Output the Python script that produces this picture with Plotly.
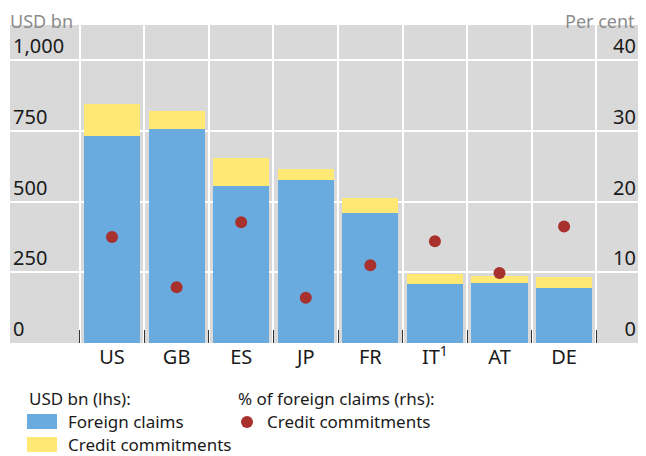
import plotly.graph_objects as go

# values
countries = ["US", "GB", "ES", "JP", "FR", "IT<sup>1</sup>", "AT", "DE"]
foreign_claims = [731, 756, 555, 576, 459, 208, 212, 194]
credit_commitments = [114, 64, 99, 39, 53, 36, 25, 39]
commitments_pct = [15.0, 7.9, 17.1, 6.4, 11.0, 14.4, 9.9, 16.5]

lhs_ticks = [0, 250, 500, 750, 1000]
lhs_labels = ["0", "250", "500", "750", "1,000"]
rhs_ticks = [0, 10, 20, 30, 40]

BLUE = "#6AABDF"
YELLOW = "#FFE873"
RED = "#A8312E"
FONT = "Noto Sans"

# the page body adds an 8px margin, so the figure is drawn 8px smaller
# and every page position is shifted by that much
OFF = 8
W, H = 646 - OFF, 456 - OFF
L, R, T, B = 2, 7, 17, 113


# page pixel -> paper coords (for the hand-made legend and corner titles)
def px(x):
    return (x - OFF - L) / (W - L - R)


def py(y):
    return (H - B - (y - OFF)) / (H - T - B)


fig = go.Figure()
fig.add_trace(go.Bar(x=countries, y=foreign_claims, name="Foreign claims",
                     marker=dict(color=BLUE, line=dict(width=0)), width=0.87))
fig.add_trace(go.Bar(x=countries, y=credit_commitments, name="Credit commitments",
                     marker=dict(color=YELLOW, line=dict(width=0)), width=0.87))
fig.add_trace(go.Scatter(x=countries, y=commitments_pct, mode="markers", yaxis="y2",
                         name="Credit commitments (%)",
                         marker=dict(color=RED, size=12)))

tick_font = dict(family=FONT, size=20, color="#1a1a1a")
fig.update_layout(
    width=W, height=H,
    margin=dict(l=L, r=R, t=T, b=B),
    barmode="stack",
    showlegend=False,
    plot_bgcolor="#D9D9D9",
    paper_bgcolor="white",
    font=dict(family=FONT, size=17, color="#1a1a1a"),
    xaxis=dict(type="category", range=[-1.58, 8.16], tickson="boundaries",
               ticks="inside", ticklen=13, tickcolor="#333333", tickwidth=1,
               showgrid=True, gridcolor="white", gridwidth=1.5,
               showline=False, zeroline=False, tickfont=tick_font),
    yaxis=dict(range=[0, 1125], tickvals=lhs_ticks, ticktext=lhs_labels,
               ticklabelposition="inside top", showgrid=True, gridcolor="white",
               gridwidth=1.5, zeroline=False, showline=False, tickfont=tick_font),
    yaxis2=dict(range=[0, 45], tickvals=rhs_ticks, overlaying="y", side="right",
                ticklabelposition="inside top", showgrid=False, zeroline=False,
                showline=False, tickfont=tick_font),
)

grey = dict(family=FONT, size=18, color="#8C8C8C")
fig.add_annotation(text="USD bn", x=px(9), y=py(8), xref="paper", yref="paper",
                   xanchor="left", yanchor="top", showarrow=False, font=grey,
                   borderpad=0)
fig.add_annotation(text="Per cent", x=px(636), y=py(8), xref="paper", yref="paper",
                   xanchor="right", yanchor="top", showarrow=False, font=grey,
                   borderpad=0)

# legend, drawn by hand
fig.add_shape(type="rect", xref="paper", yref="paper", x0=px(27), x1=px(57),
              y0=py(429), y1=py(414), fillcolor=BLUE, line=dict(width=0))
fig.add_shape(type="rect", xref="paper", yref="paper", x0=px(27), x1=px(57),
              y0=py(452), y1=py(437), fillcolor=YELLOW, line=dict(width=0))
fig.add_shape(type="circle", xref="paper", yref="paper", x0=px(241), x1=px(253),
              y0=py(428), y1=py(416), fillcolor=RED, line=dict(width=0))

legend_text = [
    ("USD bn (lhs):", 27, 398),
    ("Foreign claims", 66, 421),
    ("Credit commitments", 66, 444),
    ("% of foreign claims (rhs):", 236, 398),
    ("Credit commitments", 265, 421),
]
for txt, x, y in legend_text:
    fig.add_annotation(text=txt, x=px(x), y=py(y), xref="paper", yref="paper",
                       xanchor="left", yanchor="middle", showarrow=False,
                       font=dict(family=FONT, size=17, color="#1a1a1a"))

fig.write_html("out.html")
